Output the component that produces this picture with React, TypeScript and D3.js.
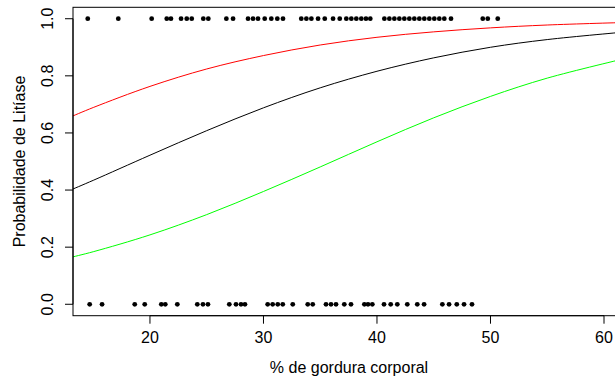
import React from "react";
import * as d3 from "d3";

// x positions of observations (% gordura corporal) with litíase = 1 and = 0
const yesFat = [
  14.52, 17.21, 20.15, 21.48, 21.85, 22.74, 23.24, 23.68, 24.7, 25.14, 26.73,
  27.32, 28.64, 29.08, 29.52, 30.11, 30.69, 31.22, 31.72, 33.33, 33.78, 34.22,
  34.81, 35.4, 36.13, 36.72, 37.3, 37.74, 38.18, 38.62, 39.03, 39.41, 40.65,
  41.09, 41.53, 41.97, 42.41, 42.85, 43.29, 43.73, 44.17, 44.61, 45.05, 45.49,
  45.93, 46.52, 49.32, 49.76, 50.64,
];
const noFat = [
  14.69, 15.78, 18.66, 19.54, 21.0, 21.35, 22.41, 24.17, 24.67, 25.11, 26.99,
  27.58, 28.02, 28.37, 30.37, 30.81, 31.26, 31.7, 32.58, 33.9, 34.34, 35.51,
  35.95, 36.39, 37.12, 37.71, 38.89, 39.21, 39.59, 40.62, 41.21, 41.79, 42.67,
  43.55, 44.15, 45.76, 46.35, 47.03, 47.67, 48.37,
];

// fitted curves
const curveX = [13, 15, 20, 25, 30, 35, 40, 45, 50, 55, 62];
const blackY = [0.4, 0.434, 0.522, 0.608, 0.688, 0.758, 0.816, 0.863, 0.9, 0.927, 0.954];
const redY = [0.656, 0.689, 0.763, 0.824, 0.871, 0.908, 0.935, 0.954, 0.968, 0.978, 0.987];
const greenY = [0.164, 0.184, 0.243, 0.314, 0.395, 0.481, 0.569, 0.653, 0.728, 0.792, 0.862];

const xTicks = [20, 30, 40, 50, 60];
const yTicks = [0, 0.2, 0.4, 0.6, 0.8, 1.0];

const WIDTH = 615;
const HEIGHT = 379;
const BOX = { left: 73, right: 625, top: 7.3, bottom: 315.7 };
const FONT = "Liberation Sans, Arial, sans-serif";
const FS = 16;
const TICK = 8;

export default function App() {
  const xScale = d3.scaleLinear().domain([13.22, 61.85]).range([BOX.left, BOX.right]);
  const yScale = d3.scaleLinear().domain([-0.04, 1.04]).range([BOX.bottom, BOX.top]);

  const line = d3
    .line<number>()
    .x((_, i) => xScale(curveX[i]))
    .y((d) => yScale(d))
    .curve(d3.curveCatmullRom);

  const series = [
    { values: redY, color: "#ff0000" },
    { values: blackY, color: "#000000" },
    { values: greenY, color: "#00ff00" },
  ];

  return (
    <div style={{ position: "fixed", left: 0, top: 0 }}>
      <svg width={WIDTH} height={HEIGHT} style={{ display: "block", background: "white" }}>
        <defs>
          <clipPath id="plot">
            <rect x={BOX.left} y={BOX.top} width={BOX.right - BOX.left} height={BOX.bottom - BOX.top} />
          </clipPath>
        </defs>

        {yesFat.map((d, i) => (
          <circle key={"y" + i} cx={xScale(d)} cy={yScale(1)} r={2.4} fill="black" />
        ))}
        {noFat.map((d, i) => (
          <circle key={"n" + i} cx={xScale(d)} cy={yScale(0)} r={2.4} fill="black" />
        ))}

        <g clipPath="url(#plot)">
          {series.map((s, i) => (
            <path key={i} d={line(s.values) ?? ""} fill="none" stroke={s.color} strokeWidth={1} />
          ))}
        </g>

        <rect
          x={BOX.left}
          y={BOX.top}
          width={BOX.right - BOX.left}
          height={BOX.bottom - BOX.top}
          fill="none"
          stroke="black"
          strokeWidth={1}
        />

        {/* x axis */}
        <line x1={xScale(20)} x2={xScale(60)} y1={BOX.bottom} y2={BOX.bottom} stroke="black" />
        {xTicks.map((t) => (
          <g key={t} transform={`translate(${xScale(t)},0)`}>
            <line y1={BOX.bottom} y2={BOX.bottom + TICK} stroke="black" />
            <text y={343} textAnchor="middle" fontFamily={FONT} fontSize={FS}>
              {t}
            </text>
          </g>
        ))}
        <text
          x={(BOX.left + BOX.right) / 2}
          y={373}
          textAnchor="middle"
          fontFamily={FONT}
          fontSize={FS}
        >
          % de gordura corporal
        </text>

        {/* y axis */}
        <line x1={BOX.left} x2={BOX.left} y1={yScale(0)} y2={yScale(1)} stroke="black" />
        {yTicks.map((t) => (
          <g key={t} transform={`translate(0,${yScale(t)})`}>
            <line x1={BOX.left - TICK} x2={BOX.left} stroke="black" />
            <text
              transform="translate(53,0) rotate(-90)"
              textAnchor="middle"
              fontFamily={FONT}
              fontSize={FS}
            >
              {t.toFixed(1)}
            </text>
          </g>
        ))}
        <text
          transform={`translate(25,${(BOX.top + BOX.bottom) / 2}) rotate(-90)`}
          textAnchor="middle"
          fontFamily={FONT}
          fontSize={FS}
        >
          Probabilidade de Litíase
        </text>
      </svg>
    </div>
  );
}
